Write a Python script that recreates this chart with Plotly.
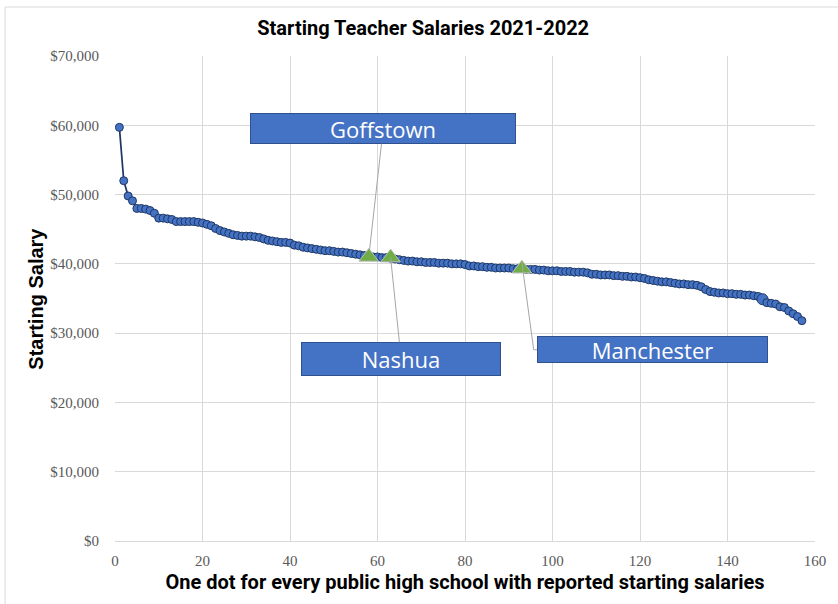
import plotly.graph_objects as go

# ---- data ----
school_rank = list(range(1, 158))
salaries_k = [
    59.7, 52.0, 49.8, 49.1, 48.0, 48.0, 47.9, 47.7, 47.3, 46.6,
    46.6, 46.5, 46.4, 46.1, 46.1, 46.1, 46.1, 46.1, 46.0, 45.9,
    45.7, 45.5, 45.1, 44.8, 44.6, 44.4, 44.2, 44.1, 44.0, 44.0,
    44.0, 43.9, 43.8, 43.6, 43.4, 43.3, 43.2, 43.1, 43.1, 43.0,
    42.7, 42.6, 42.4, 42.3, 42.2, 42.1, 42.0, 41.9, 41.9, 41.8,
    41.7, 41.7, 41.6, 41.5, 41.4, 41.3, 41.2, 41.1, 41.0, 41.0,
    40.9, 40.9, 40.8, 40.7, 40.6, 40.5, 40.4, 40.4, 40.3, 40.3,
    40.2, 40.2, 40.2, 40.1, 40.1, 40.1, 40.0, 40.0, 40.0, 39.9,
    39.7, 39.7, 39.6, 39.6, 39.5, 39.5, 39.4, 39.4, 39.4, 39.4,
    39.3, 39.3, 39.3, 39.2, 39.2, 39.2, 39.1, 39.1, 39.0, 39.0,
    39.0, 38.9, 38.9, 38.9, 38.8, 38.8, 38.8, 38.7, 38.5, 38.5,
    38.4, 38.4, 38.4, 38.3, 38.3, 38.2, 38.2, 38.1, 38.1, 38.0,
    37.9, 37.7, 37.6, 37.5, 37.4, 37.4, 37.3, 37.2, 37.1, 37.1,
    37.0, 37.0, 36.9, 36.7, 36.3, 36.0, 35.9, 35.8, 35.8, 35.7,
    35.7, 35.6, 35.6, 35.5, 35.5, 35.4, 35.3, 34.9, 34.4, 34.3,
    34.2, 33.8, 33.7, 33.2, 32.8, 32.4, 31.8,
]
salaries = [v * 1000 for v in salaries_k]

highlight_names = ["Goffstown", "Nashua", "Manchester"]
highlight_rank = [58, 63, 93]
highlight_salary = [41000, 40900, 39300]

x_ticks = [0, 20, 40, 60, 80, 100, 120, 140, 160]
y_ticks = [0, 10000, 20000, 30000, 40000, 50000, 60000, 70000]
y_tick_labels = ["$0", "$10,000", "$20,000", "$30,000", "$40,000", "$50,000", "$60,000", "$70,000"]

big_dot_rank = 148

# ---- figure ----
sizes = [11 if r == big_dot_rank else 8 for r in school_rank]

fig = go.Figure()
fig.add_trace(go.Scatter(
    x=school_rank, y=salaries, mode="lines+markers",
    line=dict(color="#1F3864", width=1.75),
    marker=dict(size=sizes, color="#4472C4", opacity=1,
                line=dict(color="#1F3864", width=1)),
    showlegend=False, hoverinfo="x+y",
))
fig.add_trace(go.Scatter(
    x=highlight_rank, y=highlight_salary, mode="markers",
    marker=dict(symbol="triangle-up", size=17, color="#70AD47", opacity=1,
                line=dict(color="#BFBFBF", width=1)),
    text=highlight_names, showlegend=False, hoverinfo="text+y",
))

# callout boxes (center in data coords, size in px)
box_cx = [61.3, 65.4, 122.9]
box_cy = [59500, 26300, 27600]
box_w = [264, 198, 229]
box_h = [29, 32, 25]
standoffs = [7, 0, 0]

annotations = []
for i, name in enumerate(highlight_names):
    common = dict(
        text=name, width=box_w[i], height=box_h[i],
        bgcolor="#4472C4", bordercolor="#2F528F", borderwidth=1, borderpad=0,
        font=dict(family="Open Sans", size=22, color="white"),
    )
    if name == "Manchester":
        annotations.append(dict(x=box_cx[i], y=box_cy[i], xref="x", yref="y",
                                showarrow=False, **common))
    else:
        annotations.append(dict(
            x=highlight_rank[i], y=highlight_salary[i], xref="x", yref="y",
            ax=box_cx[i], ay=box_cy[i], axref="x", ayref="y",
            showarrow=True, arrowhead=0, arrowwidth=1, arrowcolor="#A6A6A6",
            standoff=standoffs[i], **common))

annotations.append(dict(
    x=-0.114, y=0.5, xref="paper", yref="paper", text="<b>Starting Salary</b>",
    textangle=-90, showarrow=False, xanchor="center", yanchor="middle",
    font=dict(family="Liberation Sans", size=20, color="black"),
))

mi = highlight_names.index("Manchester")
shapes = [
    dict(type="path", xref="x", yref="y",
         path=f"M {highlight_rank[mi]},{highlight_salary[mi] + 900} L {box_cx[mi] - 27.2},{box_cy[mi]} L {box_cx[mi] - 26.2},{box_cy[mi]}",
         line=dict(color="#A6A6A6", width=1)),
    dict(type="rect", xref="paper", yref="paper", x0=-0.157, x1=1.06, y0=-0.16, y1=1.101,
         line=dict(color="#D9D9D9", width=1), fillcolor="rgba(0,0,0,0)", layer="below"),
]

fig.update_layout(
    width=838, height=604,
    margin=dict(l=115, r=23, t=56, b=63),
    paper_bgcolor="white", plot_bgcolor="white",
    title=dict(text="<b>Starting Teacher Salaries 2021-2022</b>",
               x=0.505, xref="container", xanchor="center",
               y=1 - 28 / 604, yref="container", yanchor="middle",
               font=dict(family="Roboto", size=20, color="black")),
    annotations=annotations,
    shapes=shapes,
)
fig.update_xaxes(
    range=[0, 160], tickvals=x_ticks, showgrid=True, gridcolor="#D9D9D9", gridwidth=1,
    zeroline=False, showline=False,
    ticks="outside", ticklen=6, tickcolor="rgba(0,0,0,0)",
    tickfont=dict(family="Liberation Serif", size=15, color="#595959"),
    title=dict(text="<b>One dot for every public high school with reported starting salaries</b>",
               font=dict(family="Roboto", size=20, color="black"), standoff=6),
)
fig.update_yaxes(
    range=[0, 70000], tickvals=y_ticks, ticktext=y_tick_labels,
    showgrid=True, gridcolor="#D9D9D9", gridwidth=1,
    zeroline=True, zerolinecolor="#D9D9D9", zerolinewidth=1, showline=False,
    ticks="outside", ticklen=12, tickcolor="rgba(0,0,0,0)",
    tickfont=dict(family="Liberation Serif", size=15, color="#595959"),
)

fig.write_html("out.html", config={"displayModeBar": False},
               post_script="document.body.style.margin='0px';document.body.style.overflow='hidden';")
